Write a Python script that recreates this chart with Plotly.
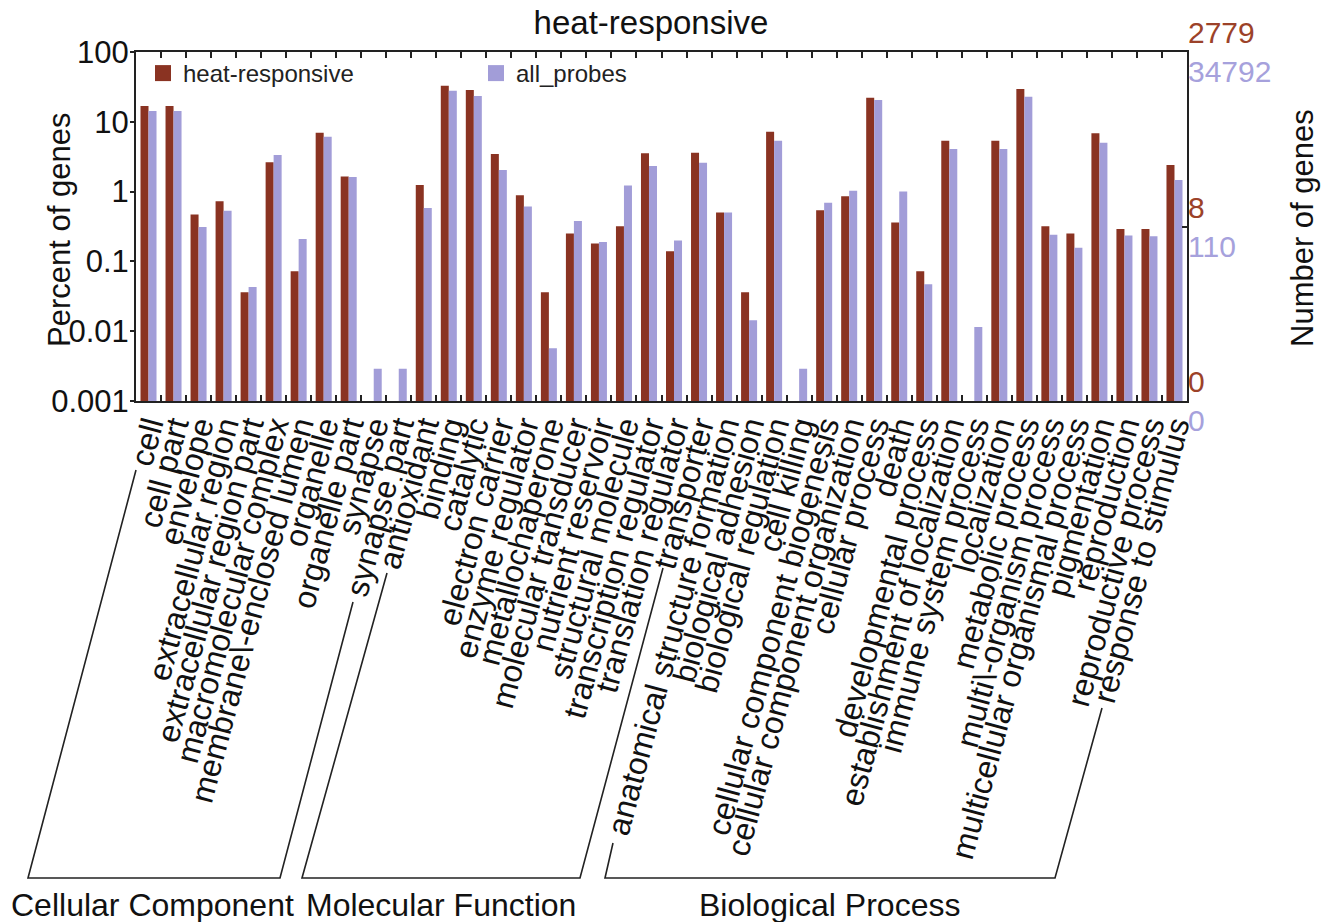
import plotly.graph_objects as go

# GO term categories (level 2), grouped by ontology
categories = [
    # Cellular Component
    "cell", "cell part", "envelope", "extracellular region",
    "extracellular region part", "macromolecular complex",
    "membrane\\-enclosed lumen", "organelle", "organelle part",
    "synapse", "synapse part",
    # Molecular Function
    "antioxidant", "binding", "catalytic", "electron carrier",
    "enzyme regulator", "metallochaperone", "molecular transducer",
    "nutrient reservoir", "structural molecule", "transcription regulator",
    "translation regulator", "transporter",
    # Biological Process
    "anatomical structure formation", "biological adhesion",
    "biological regulation", "cell killing", "cellular component biogenesis",
    "cellular component organization", "cellular process", "death",
    "developmental process", "establishment of localization",
    "immune system process", "localization", "metabolic process",
    "multi\\-organism process", "multicellular organismal process",
    "pigmentation", "reproduction", "reproductive process",
    "response to stimulus",
]

# Percent of genes annotated to each term
heat_responsive = [
    16.8, 16.8, 0.47, 0.73, 0.036, 2.63, 0.072, 6.98, 1.64, 0, 0,
    1.24, 32.9, 28.5, 3.46, 0.89, 0.036, 0.25, 0.18, 0.32, 3.54, 0.14, 3.61,
    0.50, 0.036, 7.2, 0, 0.54, 0.86, 22.1, 0.36, 0.072, 5.36, 0, 5.36,
    29.5, 0.32, 0.25, 6.84, 0.29, 0.29, 2.4,
]
all_probes = [
    14.3, 14.3, 0.31, 0.53, 0.043, 3.34, 0.21, 6.12, 1.62, 0.0029, 0.0029,
    0.58, 27.9, 23.4, 2.04, 0.61, 0.0057, 0.38, 0.19, 1.22, 2.33, 0.20, 2.6,
    0.50, 0.0144, 5.36, 0.0029, 0.69, 1.03, 20.5, 1.0, 0.047, 4.08, 0.0115,
    4.08, 22.9, 0.24, 0.157, 5.02, 0.235, 0.229, 1.47,
]

# Total gene counts of each set (100 %) and the counts at the middle right tick
total_heat = 2779
total_all = 34792
mid_heat = 8
mid_all = 110

group_names = ["Cellular Component", "Molecular Function", "Biological Process"]

percent_ticks = [0.001, 0.01, 0.1, 1, 10, 100]
percent_ticklabels = ["0.001", "0.01", "0.1", "1", "10", "100"]

RED = "#8A3322"
PURPLE = "#A29DD8"
RED_TEXT = "#9C4229"
PURPLE_TEXT = "#A6A1DC"
INK = "#111111"
FONT = "Liberation Sans, Arial, Helvetica, sans-serif"

# Plot frame in pixels
W, H = 1328, 922
PL, PR, PT, PB = 136, 1187, 52, 401


def px(x):
    return (x - PL) / (PR - PL)


def py(y):
    return (PB - y) / (PB - PT)


fig = go.Figure()
series = [("heat-responsive", heat_responsive, RED),
          ("all_probes", all_probes, PURPLE)]
for name, values, color in series:
    fig.add_trace(go.Bar(x=categories, y=values, name=name, legendgroup=name,
                         showlegend=False,
                         marker=dict(color=color, line=dict(width=0))))
# Legend keys with larger square swatches
for name, values, color in series:
    fig.add_trace(go.Scatter(x=[None], y=[None], mode="markers", name=name,
                             legendgroup=name, hoverinfo="skip",
                             marker=dict(symbol="square", size=16, color=color,
                                         line=dict(width=0))))
# Right-hand axis carrying the gene counts
fig.add_trace(go.Scatter(x=[], y=[], yaxis="y2", showlegend=False,
                         hoverinfo="skip"))

mid_pct = mid_all / total_all * 100


def two_tone(a, b):
    return (f'<span style="color:{RED_TEXT}">{a}</span><br>'
            f'<span style="color:{PURPLE_TEXT}">{b}</span>')


# Ontology brackets below the category labels (pixel polylines)
brackets = [
    [(136, 470), (28, 878), (280, 878), (353, 602)],
    [(387, 573), (302, 878), (580, 878), (663, 568)],
    [(613, 843), (605, 878), (1055, 878), (1102, 708)],
]
shapes = []
for pts in brackets:
    path = "M " + " L ".join(f"{px(x):.5f},{py(y):.5f}" for x, y in pts)
    shapes.append(dict(type="path", path=path, xref="paper", yref="paper",
                       line=dict(color="#222222", width=1.6)))

group_centers = [152, 441, 829]
annotations = [
    dict(text=name, x=px(cx), y=py(905), xref="paper", yref="paper",
         showarrow=False, xanchor="center", yanchor="middle",
         font=dict(size=32, color=INK, family=FONT))
    for name, cx in zip(group_names, group_centers)
]
# Axis titles
annotations += [
    dict(text="Percent of genes", x=px(59), y=py(230), xref="paper",
         yref="paper", textangle=-90, showarrow=False, xanchor="center",
         yanchor="middle", font=dict(size=31, color=INK, family=FONT)),
    dict(text="Number of genes", x=px(1302), y=py(228), xref="paper",
         yref="paper", textangle=-90, showarrow=False, xanchor="center",
         yanchor="middle", font=dict(size=31, color=INK, family=FONT)),
]

fig.update_layout(
    width=W, height=H,
    margin=dict(l=PL, r=W - PR, t=PT, b=H - PB, autoexpand=False),
    paper_bgcolor="white", plot_bgcolor="white",
    font=dict(family=FONT, color=INK),
    title=dict(text="heat-responsive", x=0.49, xref="paper",
               y=1 - 22 / H, yref="container", xanchor="center",
               yanchor="middle", font=dict(size=33, color=INK)),
    barmode="group", bargap=0.36, bargroupgap=0,
    showlegend=True,
    legend=dict(orientation="h", x=px(143), y=py(51), xanchor="left",
                yanchor="top", font=dict(size=24, color="#222222"),
                entrywidth=288, entrywidthmode="pixels",
                bgcolor="rgba(0,0,0,0)", borderwidth=0, itemclick=False),
    xaxis=dict(
        type="category", range=[-0.5, len(categories) - 0.5],
        tickmode="array", tickvals=categories, ticktext=categories,
        tickangle=-75, tickson="boundaries", ticks="inside", ticklen=6,
        tickwidth=1.5, tickcolor="#222222", ticklabelstandoff=-8,
        showline=True, linecolor="#222222", linewidth=2, mirror="ticks",
        showgrid=False, tickfont=dict(size=32, color=INK),
        automargin=False,
    ),
    yaxis=dict(
        type="log", range=[-3, 2], tickvals=percent_ticks,
        ticktext=percent_ticklabels, ticks="outside", ticklen=4,
        tickwidth=1.5, tickcolor="#222222", ticklabelstandoff=-5,
        showline=True, linecolor="#222222", linewidth=2, mirror=True,
        showgrid=False, zeroline=False, tickfont=dict(size=31),
        automargin=False,
    ),
    yaxis2=dict(
        type="log", range=[-3, 2], overlaying="y", side="right",
        tickvals=[0.001, mid_pct, 100],
        ticktext=[two_tone(0, 0), two_tone(mid_heat, mid_all),
                  two_tone(total_heat, total_all)],
        ticks="inside", ticklen=5, tickwidth=1.5, tickcolor="#222222",
        showline=False, showgrid=False, zeroline=False,
        tickfont=dict(size=30),
        automargin=False,
    ),
    shapes=shapes,
    annotations=annotations,
)

fig.write_html("out.html")
